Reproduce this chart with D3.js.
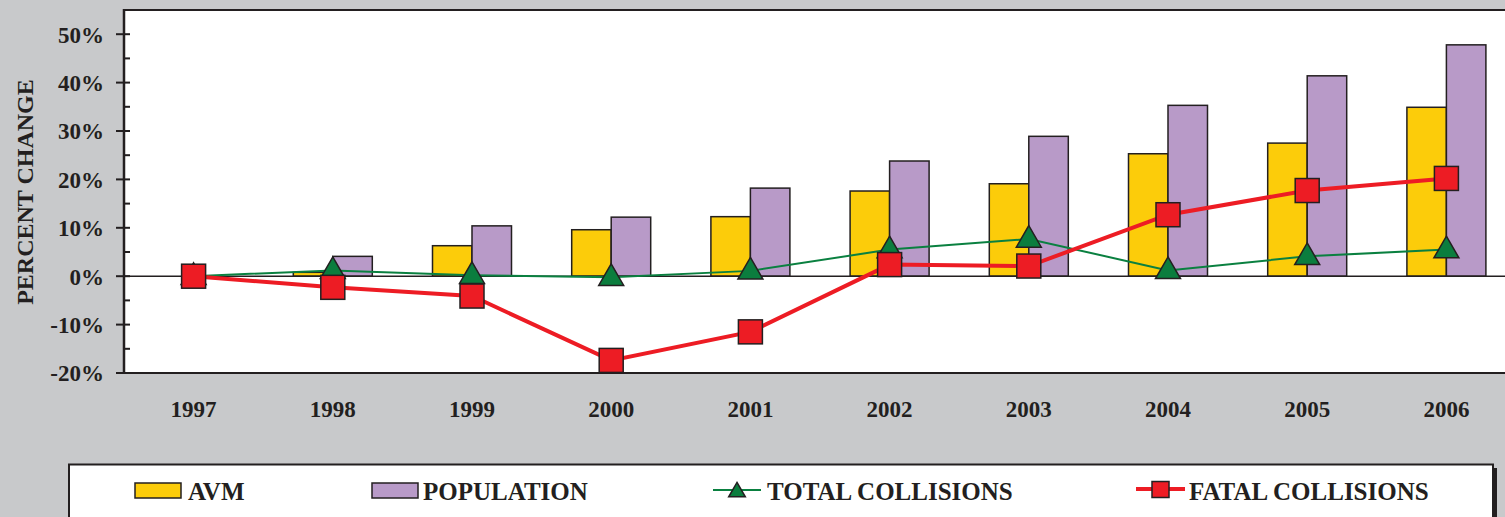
<!DOCTYPE html>
<html>
<head>
<meta charset="utf-8">
<script src="https://cdn.jsdelivr.net/npm/d3@7"></script>
<style>
  body { margin: 0; background: #c8c9cb; }
  svg { display: block; }
  text { font-family: "Liberation Serif", "Times New Roman", serif; font-weight: bold; fill: #231f20; }
</style>
</head>
<body>
<div id="chart"></div>
<script>
// data (percent change vs 1997)
var years       = ["1997", "1998", "1999", "2000", "2001", "2002", "2003", "2004", "2005", "2006"];
var avm         = [0, 0.8, 6.3, 9.6, 12.3, 17.6, 19.1, 25.3, 27.5, 34.9];
var population  = [0, 4.1, 10.4, 12.2, 18.2, 23.8, 28.9, 35.3, 41.4, 47.8];
var totalColl   = [0, 1.2, 0.2, -0.2, 1.1, 5.5, 7.7, 1.2, 4.1, 5.5];
var fatalColl   = [0, -2.3, -4.1, -17.4, -11.5, 2.4, 2.1, 12.7, 17.7, 20.2];
var yTicks      = [-20, -10, 0, 10, 20, 30, 40, 50];
var legendNames = ["AVM", "POPULATION", "TOTAL COLLISIONS", "FATAL COLLISIONS"];

var chartW  = 1505,
    chartH  = 517;
var plotLeft   = 124,
    plotTop    = 10,
    plotBottom = 373;
var ink        = "#231f20";
var avmColor   = "#fccc0a";
var popColor   = "#b89ac8";
var greenColor = "#0a8040";
var triColor   = "#0b7d3e";
var redColor   = "#ed1c24";

var svg = d3.select("#chart").append("svg")
    .attr("width", chartW)
    .attr("height", chartH);

svg.append("rect")
    .attr("width", chartW).attr("height", chartH)
    .style("fill", "#c8c9cb");

var x = d3.scaleBand()
    .domain(years)
    .range([plotLeft, plotLeft + 1392])
    .padding(0);

var y = d3.scaleLinear()
    .domain([-20, 55])
    .range([plotBottom, plotTop]);

var barW = 39.5;

// plot area
svg.append("rect")
    .attr("x", plotLeft).attr("y", plotTop)
    .attr("width", chartW - plotLeft + 10).attr("height", plotBottom - plotTop)
    .style("fill", "white");

// top border
svg.append("line")
    .attr("x1", plotLeft).attr("x2", chartW)
    .attr("y1", plotTop).attr("y2", plotTop)
    .style("stroke", ink).style("stroke-width", 2);

// bars
svg.append("g").selectAll("rect")
    .data(years)
    .join("rect")
    .attr("x", function(d) { return x(d) + x.bandwidth()/2 - barW; })
    .attr("y", function(d, i) { return y(Math.max(0, avm[i])); })
    .attr("width", barW)
    .attr("height", function(d, i) { return Math.abs(y(avm[i]) - y(0)); })
    .style("fill", avmColor)
    .style("stroke", ink)
    .style("stroke-width", 1.5);

svg.append("g").selectAll("rect")
    .data(years)
    .join("rect")
    .attr("x", function(d) { return x(d) + x.bandwidth()/2; })
    .attr("y", function(d, i) { return y(Math.max(0, population[i])); })
    .attr("width", barW)
    .attr("height", function(d, i) { return Math.abs(y(population[i]) - y(0)); })
    .style("fill", popColor)
    .style("stroke", ink)
    .style("stroke-width", 1.5);

// zero line
svg.append("line")
    .attr("x1", plotLeft).attr("x2", chartW)
    .attr("y1", y(0)).attr("y2", y(0))
    .style("stroke", ink).style("stroke-width", 1.5);

// bottom axis line (-20%)
svg.append("line")
    .attr("x1", plotLeft).attr("x2", chartW)
    .attr("y1", plotBottom).attr("y2", plotBottom)
    .style("stroke", ink).style("stroke-width", 2);

// y axis: majors cross the line, minors inside only
var yAxis = d3.axisLeft(y)
    .tickValues(yTicks)
    .tickSize(0)
    .tickPadding(20)
    .tickFormat(function(d) { return d + "%"; });

var gy = svg.append("g")
    .attr("transform", "translate(" + plotLeft + ",0)")
    .call(yAxis);
gy.select(".domain").remove();
gy.selectAll("text")
    .style("font-size", "23px")
    .style("font-family", "'Liberation Serif', serif")
    .style("font-weight", "bold")
    .style("fill", ink)
    .attr("dy", "0.34em");

svg.append("g").selectAll("line")
    .data(d3.range(-20, 55, 5))
    .join("line")
    .attr("x1", function(d) { return d % 10 === 0 ? plotLeft - 8 : plotLeft; })
    .attr("x2", plotLeft + 6)
    .attr("y1", function(d) { return y(d); })
    .attr("y2", function(d) { return y(d); })
    .style("stroke", ink).style("stroke-width", 2);

svg.append("line")
    .attr("x1", plotLeft).attr("x2", plotLeft)
    .attr("y1", plotTop - 1).attr("y2", plotBottom + 1)
    .style("stroke", ink).style("stroke-width", 2.5);

// x labels
var xAxis = d3.axisBottom(x).tickSize(0).tickPadding(0);
var gx = svg.append("g")
    .attr("transform", "translate(0," + plotBottom + ")")
    .call(xAxis);
gx.select(".domain").remove();
gx.selectAll("text")
    .attr("y", 44)
    .attr("dy", 0)
    .style("font-size", "23px")
    .style("font-family", "'Liberation Serif', serif")
    .style("font-weight", "bold")
    .style("fill", ink);

// y title
svg.append("text")
    .attr("transform", "translate(33,192) rotate(-90)")
    .attr("text-anchor", "middle")
    .style("font-size", "24px")
    .text("PERCENT CHANGE");

// lines
function cx(d, i) { return x(years[i]) + x.bandwidth()/2; }

var line = d3.line()
    .x(cx)
    .y(function(d) { return y(d); });

svg.append("path")
    .datum(totalColl)
    .attr("d", line)
    .style("fill", "none")
    .style("stroke", greenColor)
    .style("stroke-width", 2);

var tri = d3.symbol().type(d3.symbolTriangle).size(270);

svg.append("g").selectAll("path")
    .data(totalColl)
    .join("path")
    .attr("d", tri)
    .attr("transform", function(d, i) { return "translate(" + cx(d, i) + "," + (y(d) + 1) + ")"; })
    .style("fill", triColor)
    .style("stroke", ink)
    .style("stroke-width", 1.5);

svg.append("path")
    .datum(fatalColl)
    .attr("d", line)
    .style("fill", "none")
    .style("stroke", redColor)
    .style("stroke-width", 4);

var sq = 24;
svg.append("g").selectAll("rect")
    .data(fatalColl)
    .join("rect")
    .attr("x", function(d, i) { return cx(d, i) - sq/2; })
    .attr("y", function(d) { return y(d) - sq/2; })
    .attr("width", sq)
    .attr("height", sq)
    .style("fill", redColor)
    .style("stroke", ink)
    .style("stroke-width", 1.5);

// legend box with shadow
svg.append("rect")
    .attr("x", 73).attr("y", 468)
    .attr("width", 1424).attr("height", 80)
    .style("fill", ink);
svg.append("rect")
    .attr("x", 69).attr("y", 464.5)
    .attr("width", 1424).attr("height", 80)
    .style("fill", "white")
    .style("stroke", ink)
    .style("stroke-width", 2);

var legend = svg.append("g");
var swatchX = [135, 372];
[avmColor, popColor].forEach(function(c, i) {
    legend.append("rect")
        .attr("x", swatchX[i]).attr("y", 483)
        .attr("width", 46).attr("height", 15)
        .style("fill", c)
        .style("stroke", ink)
        .style("stroke-width", 1.5);
});

// total collisions key
legend.append("line")
    .attr("x1", 713).attr("x2", 761)
    .attr("y1", 490).attr("y2", 490)
    .style("stroke", greenColor).style("stroke-width", 2);
legend.append("path")
    .attr("d", d3.symbol().type(d3.symbolTriangle).size(120))
    .attr("transform", "translate(737,492)")
    .style("fill", triColor)
    .style("stroke", ink)
    .style("stroke-width", 1.5);

// fatal collisions key
legend.append("line")
    .attr("x1", 1136).attr("x2", 1185)
    .attr("y1", 489).attr("y2", 489)
    .style("stroke", redColor).style("stroke-width", 4);
legend.append("rect")
    .attr("x", 1152).attr("y", 481.5)
    .attr("width", 17).attr("height", 16)
    .style("fill", redColor)
    .style("stroke", ink)
    .style("stroke-width", 1.5);

var textX = [188, 423, 767, 1189];
legend.selectAll("text")
    .data(legendNames)
    .join("text")
    .attr("x", function(d, i) { return textX[i]; })
    .attr("y", 500)
    .style("font-size", "25px")
    .text(function(d) { return d; });
</script>
</body>
</html>
